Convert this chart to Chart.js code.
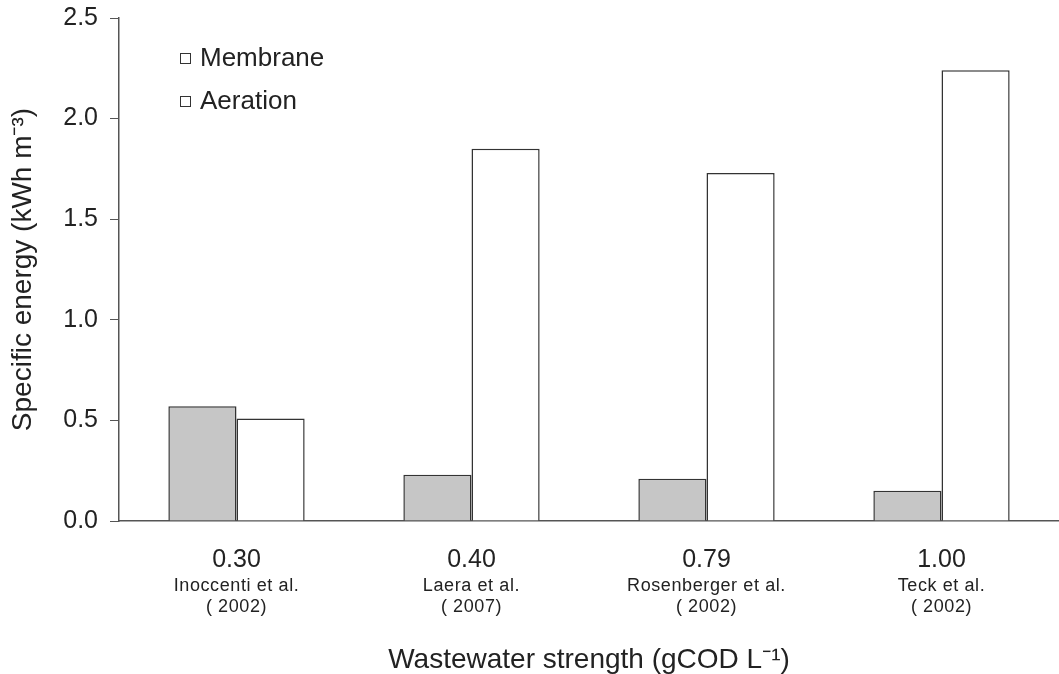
<!DOCTYPE html>
<html>
<head>
<meta charset="utf-8">
<script src="https://cdn.jsdelivr.net/npm/chart.js@4/dist/chart.umd.min.js"></script>
<style>
  html, body { margin: 0; padding: 0; background: #fff; }
  #wrap { width: 1059px; height: 674px; }
</style>
</head>
<body>
<div id="wrap"><canvas id="energyChart"></canvas></div>
<script>
// wastewater strength (gCOD/L) and the study each bar pair comes from
const strengths = ['0.30', '0.40', '0.79', '1.00'];
const studies = ['Inoccenti et al.', 'Laera et al.', 'Rosenberger et al.', 'Teck et al.'];
const years = ['( 2002)', '( 2007)', '( 2002)', '( 2002)'];

// specific energy, kWh/m3
const membrane = [0.57, 0.23, 0.21, 0.15];
const aeration = [0.51, 1.85, 1.73, 2.24];

const yTicks = [0, 0.5, 1.0, 1.5, 2.0, 2.5];

const FONT = "'Liberation Sans', Arial, sans-serif";
const INK = '#222';

// second and third line under each x tick: author and year, smaller type
const studyLabels = {
    id: 'studyLabels',
    afterDraw(chart) {
        const ctx = chart.ctx;
        const x = chart.scales.x;
        ctx.save();
        ctx.fillStyle = INK;
        ctx.font = '18px ' + FONT;
        ctx.letterSpacing = '0.6px';
        ctx.textAlign = 'center';
        ctx.textBaseline = 'middle';
        studies.forEach((s, i) => {
            const px = x.getPixelForTick(i);
            ctx.fillText(s, px, x.top + 65);
            ctx.fillText(years[i], px, x.top + 86);
        });
        ctx.restore();
    }
};

// legend sits inside the plot, upper left
const insideLegend = {
    id: 'insideLegend',
    afterDraw(chart) {
        const ctx = chart.ctx;
        const area = chart.chartArea;
        ctx.save();
        ctx.font = '26px ' + FONT;
        ctx.textBaseline = 'middle';
        chart.data.datasets.forEach((ds, i) => {
            const y = area.top + 40 + i * 43;
            const bx = area.left + 61;
            ctx.fillStyle = '#fff';
            ctx.fillRect(bx, y - 5, 11, 11);
            ctx.strokeStyle = '#333';
            ctx.lineWidth = 1;
            ctx.strokeRect(bx + 0.5, y - 4.5, 10, 10);
            ctx.fillStyle = INK;
            ctx.fillText(ds.label, bx + 20, y + 1);
        });
        ctx.restore();
    }
};

const ctx = document.getElementById('energyChart').getContext('2d');
new Chart(ctx, {
    type: 'bar',
    data: {
        labels: strengths,
        datasets: [
            {
                label: 'Membrane',
                data: membrane,
                backgroundColor: '#c6c6c6',
                borderColor: '#333',
                borderWidth: 1.5
            },
            {
                label: 'Aeration',
                data: aeration,
                backgroundColor: '#ffffff',
                borderColor: '#333',
                borderWidth: 1.5
            }
        ]
    },
    options: {
        responsive: true,
        maintainAspectRatio: false,
        animation: false,
        layout: { padding: { top: 0, right: 0, bottom: 0, left: 0 } },
        plugins: {
            legend: { display: false },
            tooltip: { enabled: false }
        },
        datasets: {
            bar: { categoryPercentage: 0.58, barPercentage: 1.0 }
        },
        scales: {
            x: {
                grid: { display: false, drawTicks: false },
                border: { display: true, color: '#555', width: 1.5 },
                ticks: {
                    color: INK,
                    font: { family: FONT, size: 25 },
                    padding: 24,
                    maxRotation: 0
                },
                title: {
                    display: true,
                    text: 'Wastewater strength (gCOD L\u207B\u00B9)',
                    color: INK,
                    font: { family: FONT, size: 28, lineHeight: 1 },
                    padding: { top: 0, bottom: 0 }
                },
                afterFit(scale) { scale.height = 153; }
            },
            y: {
                min: 0,
                max: 2.5,
                afterBuildTicks(scale) {
                    scale.ticks = yTicks.map(v => ({ value: v }));
                },
                grid: {
                    drawOnChartArea: false,
                    drawTicks: true,
                    tickLength: 9,
                    color: '#555'
                },
                border: { display: true, color: '#555', width: 1.5 },
                ticks: {
                    color: INK,
                    font: { family: FONT, size: 25 },
                    padding: 12,
                    callback: v => Number(v).toFixed(1)
                },
                title: {
                    display: true,
                    text: 'Specific energy (kWh m\u207B\u00B3)',
                    color: INK,
                    font: { family: FONT, size: 28 },
                    padding: { top: 6, bottom: 8 }
                },
                afterFit(scale) {
                    scale.width = 119;
                    scale.paddingTop = 18;
                    scale.paddingBottom = 0;
                }
            }
        }
    },
    plugins: [studyLabels, insideLegend]
});
</script>
</body>
</html>
